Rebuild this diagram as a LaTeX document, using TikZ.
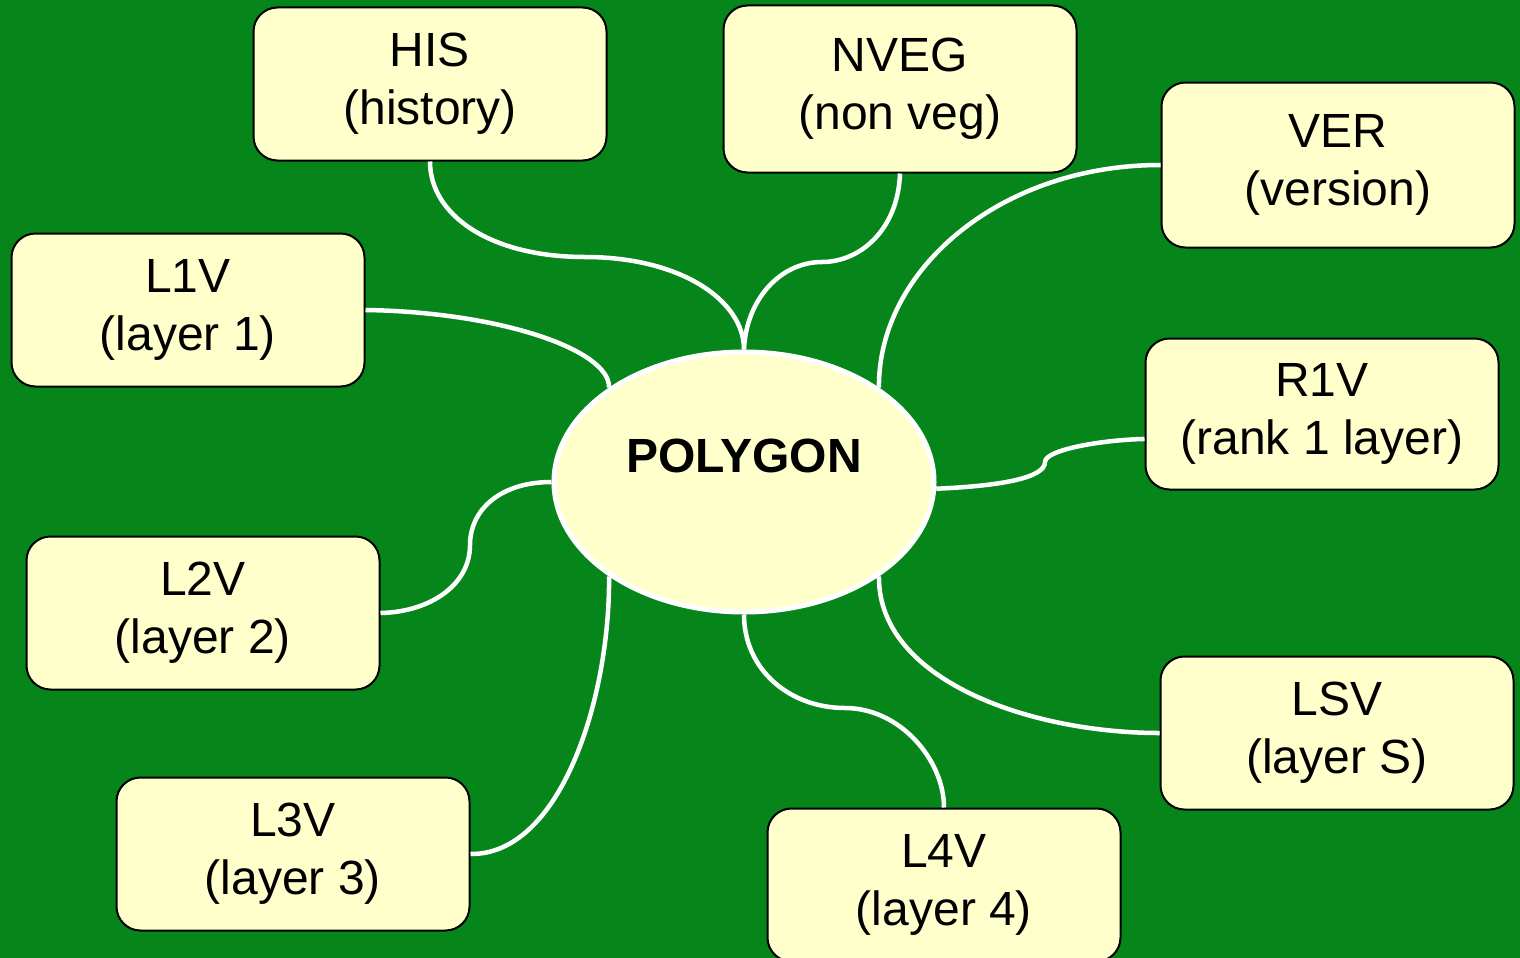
\documentclass[tikz,border=0pt]{standalone}
\usepackage{fontspec}
\setmainfont{Liberation Sans}
\usetikzlibrary{shapes.geometric}
\definecolor{bggreen}{RGB}{6,134,26}
\definecolor{boxyellow}{RGB}{255,255,204}
\tikzset{
	vbox/.style={draw=black, line width=2pt, fill=boxyellow, rounded corners=24pt,
		minimum width=353pt, minimum height=153pt, inner sep=0pt, align=center,
		font=\fontsize{48}{58}\selectfont},
	hub/.style={ellipse, draw=white, line width=5pt, fill=boxyellow,
		minimum width=380pt, minimum height=260pt, inner sep=0pt,
		font=\fontsize{48}{58}\selectfont\bfseries},
	link/.style={draw=white, line width=4.5pt}
}

\begin{document}
\begin{tikzpicture}[x=1pt, y=-1pt]
		%%%%% START %%%%%
		\useasboundingbox (0, 0) rectangle (1520, 958);
		\fill[bggreen] (0, 0) rectangle (1520, 958);
		
		\node[hub] (poly) at (744, 482) {\raisebox{9.5pt}[0pt][0pt]{POLYGON}};
		
		\node[vbox] (his) at (430, 84) {HIS\\(history)};
		\node[vbox, minimum height=167pt] (nveg) at (900, 89) {NVEG\\(non veg)};
		\node[vbox, minimum height=165pt] (ver) at (1338, 165) {VER\\(version)};
		\node[vbox] (lone) at (188, 310) {L1V\\(layer 1)};
		\node[vbox, minimum height=151pt] (rone) at (1322, 414) {R1V\\(rank 1 layer)};
		\node[vbox] (ltwo) at (203, 613) {L2V\\(layer 2)};
		\node[vbox] (lsv) at (1337, 733) {LSV\\(layer S)};
		\node[vbox] (lthree) at (293, 854) {L3V\\(layer 3)};
		\node[vbox] (lfour) at (944, 885) {L4V\\(layer 4)};
		
		\draw[link] (his.south) .. controls (430, 215) and (490, 257) .. (585, 257)
			.. controls (680, 257) and (744, 300) .. (poly.north);
		\draw[link] (nveg.south) .. controls (898, 230) and (860, 262) .. (822, 262)
			.. controls (780, 262) and (746, 300) .. (poly.north);
		\draw[link] (ver.west) .. controls (1000, 165) and (878, 270) .. (poly.35);
		\draw[link] (lone.east) .. controls (500, 312) and (610, 350) .. (poly.145);
		\draw[link] (poly.-2) .. controls (1000, 486) and (1045, 478) .. (1045, 462)
			.. controls (1045, 450) and (1100, 440) .. (rone.188);
		\draw[link] (poly.west) .. controls (500, 482) and (470, 510) .. (470, 545)
			.. controls (470, 585) and (430, 612) .. (ltwo.east);
		\draw[link] (poly.215) .. controls (610, 700) and (560, 855) .. (lthree.east);
		\draw[link] (poly.south) .. controls (744, 670) and (790, 708) .. (845, 708)
			.. controls (900, 708) and (944, 760) .. (lfour.north);
		\draw[link] (poly.325) .. controls (878, 680) and (1030, 733) .. (lsv.west);
		%%%%% END %%%%%
	\end{tikzpicture}
\end{document}
